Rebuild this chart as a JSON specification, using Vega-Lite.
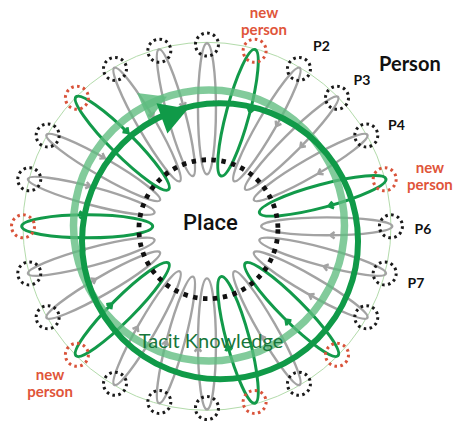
{
  "$schema": "https://vega.github.io/schema/vega-lite/v6.json",
  "width": 459,
  "height": 426,
  "autosize": {"type": "fit", "contains": "padding"},
  "padding": 0,
  "background": "white",
  "config": {"view": {"stroke": null}},
  "datasets": {
    "persons": [
      {"id": "Q0", "deg": 0, "x": 0, "y": 100, "status": "existing"},
      {"id": "N1", "deg": 15, "x": 25.9, "y": 96.6, "status": "new"},
      {"id": "P2", "deg": 30, "x": 50, "y": 86.6, "status": "existing"},
      {"id": "P3", "deg": 45, "x": 70.7, "y": 70.7, "status": "existing"},
      {"id": "P4", "deg": 60, "x": 86.6, "y": 50, "status": "existing"},
      {"id": "N5", "deg": 75, "x": 96.6, "y": 25.9, "status": "new"},
      {"id": "P6", "deg": 90, "x": 100, "y": 0, "status": "existing"},
      {"id": "P7", "deg": 105, "x": 96.6, "y": -25.9, "status": "existing"},
      {"id": "Q8", "deg": 120, "x": 86.6, "y": -50, "status": "existing"},
      {"id": "N9", "deg": 135, "x": 70.7, "y": -70.7, "status": "new"},
      {"id": "Q10", "deg": 150, "x": 50, "y": -86.6, "status": "existing"},
      {"id": "N11", "deg": 165, "x": 25.9, "y": -96.6, "status": "new"},
      {"id": "Q12", "deg": 180, "x": 0, "y": -100, "status": "existing"},
      {"id": "Q13", "deg": 195, "x": -25.9, "y": -96.6, "status": "existing"},
      {"id": "Q14", "deg": 210, "x": -50, "y": -86.6, "status": "existing"},
      {"id": "N15", "deg": 225, "x": -70.7, "y": -70.7, "status": "new"},
      {"id": "Q16", "deg": 240, "x": -86.6, "y": -50, "status": "existing"},
      {"id": "Q17", "deg": 255, "x": -96.6, "y": -25.9, "status": "existing"},
      {"id": "N18", "deg": 270, "x": -100, "y": 0, "status": "new"},
      {"id": "Q19", "deg": 285, "x": -96.6, "y": 25.9, "status": "existing"},
      {"id": "Q20", "deg": 300, "x": -86.6, "y": 50, "status": "existing"},
      {"id": "N21", "deg": 315, "x": -70.7, "y": 70.7, "status": "new"},
      {"id": "Q22", "deg": 330, "x": -50, "y": 86.6, "status": "existing"},
      {"id": "Q23", "deg": 345, "x": -25.9, "y": 96.6, "status": "existing"}
    ],
    "rings": [
      {"ring": "person ring", "x": 0, "y": 0},
      {"ring": "place", "x": 0.8, "y": -1.6},
      {"ring": "knowledge light", "x": 1.1, "y": 0.5},
      {"ring": "knowledge", "x": 7.1, "y": -8.2},
      {"ring": "arrow light", "x": -28.3, "y": 68.5},
      {"ring": "arrow", "x": -17.4, "y": 62.0}
    ],
    "labels": [
      {"text": "Place", "x": 1.9, "y": -2.3, "kind": "place"},
      {"text": "Person", "x": 110.3, "y": 85.2, "kind": "title"},
      {"text": "P2", "x": 62.2, "y": 96.3, "kind": "p"},
      {"text": "P3", "x": 84.2, "y": 77.7, "kind": "p"},
      {"text": "P4", "x": 103, "y": 52.9, "kind": "p"},
      {"text": "P6", "x": 117.4, "y": -4.0, "kind": "p"},
      {"text": "P7", "x": 113.6, "y": -33.9, "kind": "p"},
      {"text": "Tacit Knowledge", "x": 2.2, "y": -66.7, "kind": "tacit"},
      {"text": "new\nperson", "x": 31, "y": 114.5, "kind": "new"},
      {"text": "new\nperson", "x": 121.2, "y": 29.3, "kind": "new"},
      {"text": "new\nperson", "x": -85.3, "y": -84.8, "kind": "new"}
    ]
  },
  "encoding": {
    "x": {"field": "x", "type": "quantitative", "scale": {"domain": [-112.5, 137], "nice": false, "zero": false}, "axis": null},
    "y": {"field": "y", "type": "quantitative", "scale": {"domain": [-107.1, 124.5], "nice": false, "zero": false}, "axis": null}
  },
  "layer": [
    {
      "data": {"name": "rings"},
      "transform": [{"filter": "datum.ring === 'person ring'"}],
      "mark": {"type": "point", "shape": "circle", "filled": false, "size": 135424, "stroke": "#b3dbab", "strokeWidth": 1, "opacity": 1}
    },
    {
      "data": {"name": "persons"},
      "transform": [{"filter": "datum.status === 'existing'"}],
      "mark": {"type": "point", "shape": "M0,-0.02C0.0757,-0.02,0.137,0.4277,0.137,0.98C0.137,1.5323,0.0757,1.98,0,1.98C-0.0757,1.98,-0.137,1.5323,-0.137,0.98C-0.137,0.4277,-0.0757,-0.02,0,-0.02ZM0.087,0.86L0.137,0.93L0.187,0.86", "filled": false, "size": 17161, "stroke": "#a3a3a3", "strokeWidth": 2.4, "opacity": 1},
      "encoding": {"angle": {"field": "deg", "type": "quantitative", "scale": null}}
    },
    {
      "data": {"name": "persons"},
      "transform": [{"filter": "datum.status === 'new'"}],
      "mark": {"type": "point", "shape": "M0,-0.02C0.0967,-0.02,0.175,0.4277,0.175,0.98C0.175,1.5323,0.0967,1.98,0,1.98C-0.0967,1.98,-0.175,1.5323,-0.175,0.98C-0.175,0.4277,-0.0967,-0.02,0,-0.02ZM0.125,0.86L0.175,0.93L0.225,0.86", "filled": false, "size": 17161, "stroke": "#129a4a", "strokeWidth": 3, "opacity": 1},
      "encoding": {"angle": {"field": "deg", "type": "quantitative", "scale": null}}
    },
    {
      "data": {"name": "rings"},
      "transform": [{"filter": "datum.ring === 'knowledge light'"}],
      "mark": {"type": "point", "shape": "circle", "filled": false, "size": 73441, "stroke": "#5fbd80", "strokeWidth": 7.5, "opacity": 0.78}
    },
    {
      "data": {"name": "rings"},
      "transform": [{"filter": "datum.ring === 'arrow light'"}],
      "mark": {"type": "point", "shape": "triangle-right", "filled": true, "size": 900, "angle": -23, "fill": "#5fbd80", "strokeWidth": 0, "opacity": 0.85}
    },
    {
      "data": {"name": "rings"},
      "transform": [{"filter": "datum.ring === 'knowledge'"}],
      "mark": {"type": "point", "shape": "circle", "filled": false, "size": 76176, "stroke": "#109a48", "strokeWidth": 6, "opacity": 1}
    },
    {
      "data": {"name": "rings"},
      "transform": [{"filter": "datum.ring === 'arrow'"}],
      "mark": {"type": "point", "shape": "triangle-right", "filled": true, "size": 1024, "angle": -20, "fill": "#109a48", "strokeWidth": 0, "opacity": 1}
    },
    {
      "data": {"name": "rings"},
      "transform": [{"filter": "datum.ring === 'place'"}],
      "mark": {"type": "point", "shape": "circle", "filled": false, "size": 19321, "stroke": "#111111", "strokeWidth": 4.8, "strokeDash": [4.5, 5.5], "opacity": 1}
    },
    {
      "data": {"name": "persons"},
      "mark": {"type": "point", "shape": "circle", "filled": false, "size": 529, "strokeWidth": 3, "strokeDash": [2.6, 3.4], "opacity": 1},
      "encoding": {
        "color": {"field": "status", "type": "nominal", "scale": {"domain": ["existing", "new"], "range": ["#1a1a1a", "#d9533a"]}, "legend": null}
      }
    },
    {
      "data": {"name": "labels"},
      "transform": [{"filter": "datum.kind === 'place'"}],
      "mark": {"type": "text", "align": "center", "baseline": "alphabetic", "font": "Roboto", "fontSize": 22, "fontWeight": 500, "fill": "#111111"},
      "encoding": {"text": {"field": "text", "type": "nominal"}}
    },
    {
      "data": {"name": "labels"},
      "transform": [{"filter": "datum.kind === 'title'"}],
      "mark": {"type": "text", "align": "center", "baseline": "alphabetic", "font": "Lato", "fontSize": 20, "fontWeight": "bold", "fill": "#111111"},
      "encoding": {"text": {"field": "text", "type": "nominal"}}
    },
    {
      "data": {"name": "labels"},
      "transform": [{"filter": "datum.kind === 'p'"}],
      "mark": {"type": "text", "align": "center", "baseline": "alphabetic", "font": "Lato", "fontSize": 14, "fontWeight": "bold", "fill": "#111111"},
      "encoding": {"text": {"field": "text", "type": "nominal"}}
    },
    {
      "data": {"name": "labels"},
      "transform": [{"filter": "datum.kind === 'tacit'"}],
      "mark": {"type": "text", "align": "center", "baseline": "alphabetic", "font": "Lato", "fontSize": 20, "fill": "#17763a", "opacity": 1},
      "encoding": {"text": {"field": "text", "type": "nominal"}}
    },
    {
      "data": {"name": "labels"},
      "transform": [{"filter": "datum.kind === 'new'"}],
      "mark": {"type": "text", "align": "center", "baseline": "alphabetic", "lineBreak": "\n", "lineHeight": 17, "font": "Lato", "fontSize": 15, "fontWeight": "bold", "fill": "#e0553a"},
      "encoding": {"text": {"field": "text", "type": "nominal"}}
    }
  ]
}
